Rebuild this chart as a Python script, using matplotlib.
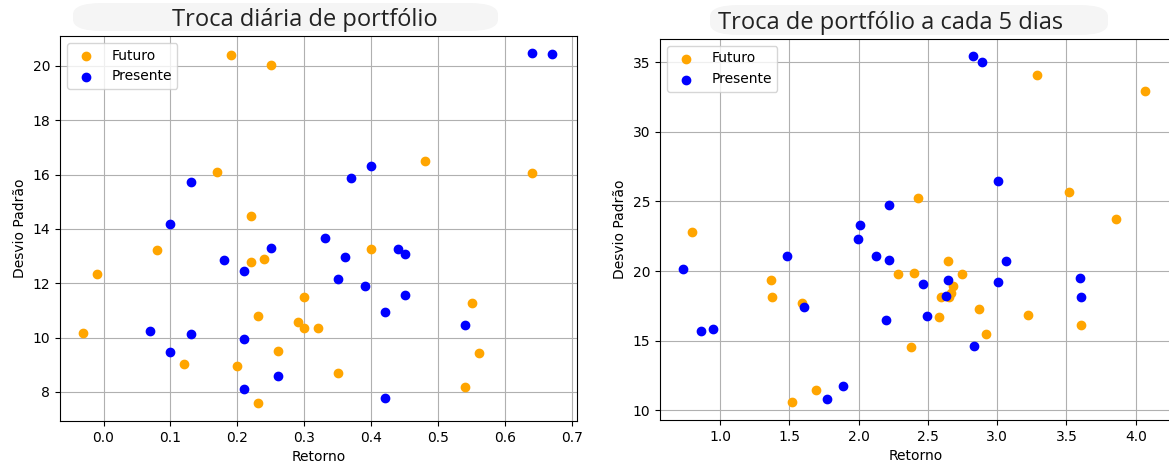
import matplotlib
matplotlib.use("Agg")
import matplotlib.pyplot as plt
from matplotlib.patches import FancyBboxPatch

# troca diaria
dia_fut_x = [-0.03, -0.01, 0.08, 0.12, 0.17, 0.19, 0.20, 0.22, 0.22, 0.23, 0.23, 0.24, 0.25,
             0.26, 0.29, 0.30, 0.30, 0.32, 0.35, 0.40, 0.48, 0.54, 0.55, 0.56, 0.64]
dia_fut_y = [10.16, 12.34, 13.23, 9.03, 16.10, 20.39, 8.97, 14.49, 12.77, 10.80, 7.59, 12.89, 20.05,
             9.51, 10.59, 11.51, 10.37, 10.35, 8.69, 13.26, 16.51, 8.17, 11.27, 9.43, 16.05]
dia_pre_x = [0.10, 0.13, 0.25, 0.64, 0.67, 0.40, 0.37, 0.33, 0.36, 0.44, 0.45, 0.35, 0.39,
             0.45, 0.42, 0.54, 0.42, 0.18, 0.21, 0.07, 0.13, 0.10, 0.21, 0.26, 0.21]
dia_pre_y = [14.18, 15.74, 13.30, 20.47, 20.43, 16.33, 15.87, 13.68, 12.96, 13.26, 13.07, 12.15, 11.91,
             11.57, 10.96, 10.46, 7.77, 12.87, 12.46, 10.25, 10.15, 9.46, 9.93, 8.59, 8.09]

# troca a cada 5 dias
cinco_fut_x = [0.80, 3.285, 4.069, 3.52, 2.426, 3.86, 1.371, 1.378, 1.592, 1.517, 1.69, 2.286, 2.401,
               2.644, 2.743, 2.683, 2.592, 2.655, 2.67, 2.869, 2.578, 3.222, 2.919, 2.378, 3.607]
cinco_fut_y = [22.79, 34.09, 32.96, 25.66, 25.23, 23.72, 19.36, 18.12, 17.69, 10.57, 11.46, 19.77, 19.84,
               20.72, 19.81, 18.93, 18.12, 18.16, 18.45, 17.30, 16.70, 16.87, 15.46, 14.57, 16.10]
cinco_pre_x = [2.01, 1.993, 2.219, 2.825, 2.893, 3.008, 0.731, 0.861, 0.952, 1.486, 1.609, 1.774, 1.89,
               2.127, 2.218, 2.201, 2.465, 2.644, 2.633, 2.491, 2.833, 3.066, 3.006, 3.597, 3.605]
cinco_pre_y = [23.29, 22.33, 24.75, 35.43, 35.00, 26.47, 20.17, 15.67, 15.82, 21.06, 17.44, 10.79, 11.77,
               21.06, 20.82, 16.49, 19.10, 19.36, 18.20, 16.78, 14.64, 20.70, 19.22, 19.50, 18.12]

fig = plt.figure(figsize=(11.69, 4.63), dpi=100)
W, H = 1169, 463

ax1 = fig.add_axes([60 / W, 42 / H, 517 / W, 385 / H])
ax2 = fig.add_axes([660 / W, 43 / H, 511 / W, 381 / H])

for ax, fx, fy, px, py in [(ax1, dia_fut_x, dia_fut_y, dia_pre_x, dia_pre_y),
                           (ax2, cinco_fut_x, cinco_fut_y, cinco_pre_x, cinco_pre_y)]:
    ax.scatter(fx, fy, color='orange', label='Futuro', zorder=3)
    ax.scatter(px, py, color='blue', label='Presente', zorder=3)
    ax.set_xlabel('Retorno')
    ax.set_ylabel('Desvio Padrão')
    ax.grid(True)
    ax.set_axisbelow(True)
    ax.legend(loc='upper left')

ax1.set_xlim(-0.065, 0.707)
ax1.set_ylim(6.93, 21.1)
ax1.set_yticks([8, 10, 12, 14, 16, 18, 20])
ax2.set_xlim(0.567, 4.254)
ax2.set_ylim(9.30, 36.67)
ax2.set_xticks([1.0, 1.5, 2.0, 2.5, 3.0, 3.5, 4.0])

# fundo cinza claro arredondado atras dos titulos
for x0, x1, y0, y1 in [(73, 498, 3, 31), (710, 1108, 5, 35)]:
    fig.patches.append(FancyBboxPatch((x0 / W, 1 - y1 / H), (x1 - x0) / W, (y1 - y0) / H,
                                      boxstyle='round,pad=0,rounding_size=0.025',
                                      transform=fig.transFigure, fc='#f5f5f5', ec='none',
                                      mutation_aspect=H / W * 2.5, zorder=0))

fig.text(305 / W, 1 - 20 / H, 'Troca diária de portfólio', ha='center', va='center',
         fontsize=17, family='Open Sans', color='#222222')
fig.text(891 / W, 1 - 23 / H, 'Troca de portfólio a cada 5 dias', ha='center', va='center',
         fontsize=17, family='Open Sans', color='#222222')

fig.savefig('out.png', dpi=100)
